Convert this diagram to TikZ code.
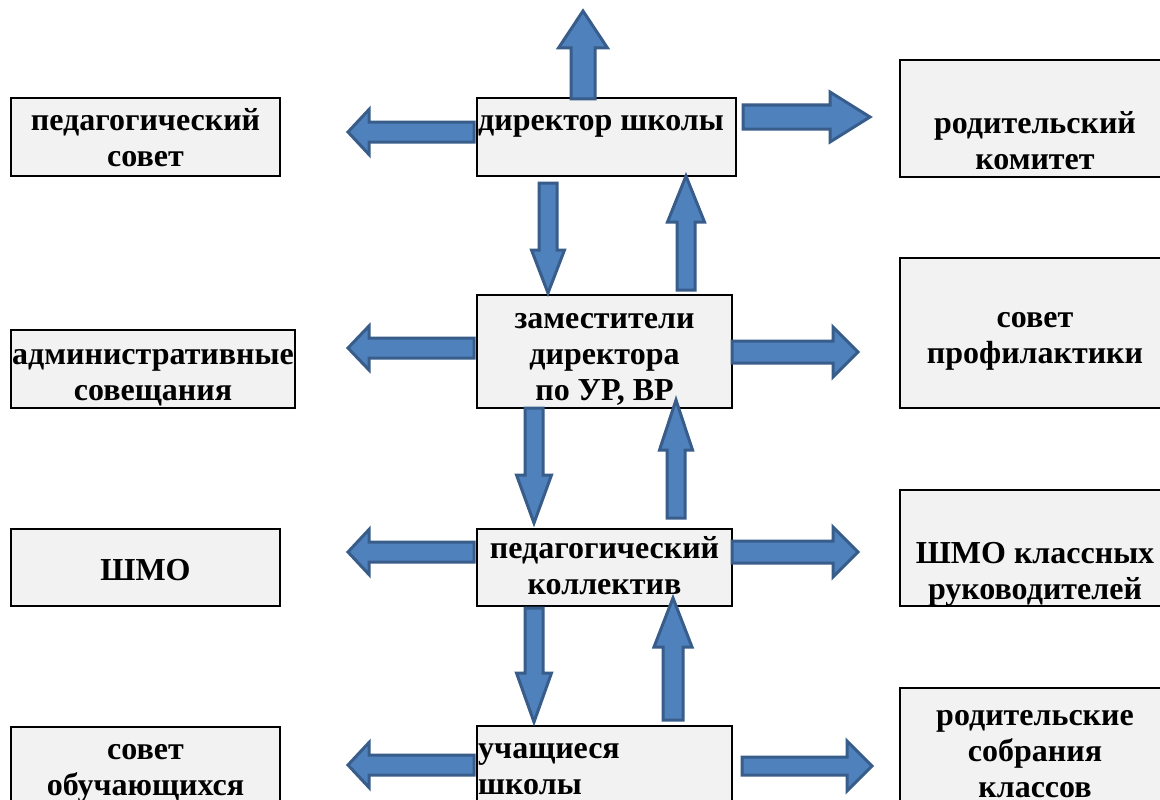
\documentclass[tikz,border=0pt]{standalone}
\usepackage{fontspec}
\setmainfont{Liberation Serif}
\definecolor{arrfill}{HTML}{4F81BD}
\definecolor{arrline}{HTML}{385D8A}
\definecolor{boxfill}{HTML}{F2F2F2}
\tikzset{
  box/.style={draw=black, fill=boxfill, line width=2.5pt, inner sep=0pt, outer sep=0pt, anchor=north west},
  lbl/.style={inner sep=0pt, font=\fontsize{32}{36}\selectfont\bfseries},
  blockarrow/.style={draw=arrline, fill=arrfill, line width=3pt, line join=miter}
}
\newcommand\harrow[6]{% x0 xb xt yc s H
  \draw[blockarrow] (#1,#4-#5) -- (#2,#4-#5) -- (#2,#4-#6) -- (#3,#4) -- (#2,#4+#6) -- (#2,#4+#5) -- (#1,#4+#5) -- cycle;}
\newcommand\varrow[6]{% y0 yb yt xc s H
  \draw[blockarrow] (#4-#5,#1) -- (#4-#5,#2) -- (#4-#6,#2) -- (#4,#3) -- (#4+#6,#2) -- (#4+#5,#2) -- (#4+#5,#1) -- cycle;}
\newcommand\ctext[1]{\begin{tabular}[t]{@{}c@{}}#1\end{tabular}}
\newcommand\ltext[1]{\begin{tabular}[t]{@{}l@{}}#1\end{tabular}}
\begin{document}
\begin{tikzpicture}[x=1pt,y=-1pt]
\useasboundingbox (0,0) rectangle (1160,800);
\fill[white] (0,0) rectangle (1160,800);
% boxes
\node[box, minimum width=269pt, minimum height=78pt] (ps) at (11,98) {};
\node[box, minimum width=284pt, minimum height=78pt] (adm) at (11,330) {};
\node[box, minimum width=269pt, minimum height=77pt] (shmo) at (11,529) {};
\node[box, minimum width=269pt, minimum height=90pt] (so) at (11,727) {};
\node[box, minimum width=259pt, minimum height=78pt] (dir) at (477,98) {};
\node[box, minimum width=255pt, minimum height=113pt] (zam) at (477,295) {};
\node[box, minimum width=255pt, minimum height=77pt] (pk) at (477,529) {};
\node[box, minimum width=255pt, minimum height=90pt] (uch) at (477,726) {};
\node[box, minimum width=270pt, minimum height=117pt] (rk) at (900,60) {};
\node[box, minimum width=270pt, minimum height=150pt] (sp) at (900,258) {};
\node[box, minimum width=270pt, minimum height=116pt] (shk) at (900,490) {};
\node[box, minimum width=270pt, minimum height=130pt] (rs) at (900,688) {};
% block arrows
\varrow{99}{48}{11}{583}{12}{24.5}
\harrow{474}{369}{348}{132}{10}{22.5}
\harrow{743}{830}{870}{117}{12}{25}
\varrow{183}{250}{293}{548}{9}{16.5}
\varrow{290}{222}{176}{686}{9}{18.5}
\harrow{474}{369}{348}{348}{10}{22}
\harrow{732}{833}{858}{352}{11}{25}
\varrow{408}{475}{523}{534}{9}{17.5}
\varrow{518}{450}{400}{676}{9}{16.5}
\harrow{474}{369}{348}{552}{10}{22.5}
\harrow{732}{833}{858}{552}{11}{25}
\varrow{608}{673}{722}{534}{9}{17.5}
\varrow{720}{647}{598}{673}{10}{19}
\harrow{474}{369}{348}{765}{10}{22.5}
\harrow{742}{847}{872}{766}{9}{25}
% labels
\node[lbl, anchor=base] (tps) at (145.5,130) {\ctext{педагогический\\совет}};
\node[lbl, anchor=base] (tadm) at (153,364) {\ctext{административные\\совещания}};
\node[lbl, anchor=base] (tshmo) at (145.5,580) {\ctext{ШМО}};
\node[lbl, anchor=base] (tso) at (145.5,759) {\ctext{совет\\обучающихся}};
\node[lbl, anchor=base west] (tdir) at (478,130) {\ltext{директор школы}};
\node[lbl, anchor=base] (tzam) at (604.5,328) {\ctext{заместители\\директора\\по УР, ВР}};
\node[lbl, anchor=base] (tpk) at (604.5,558) {\ctext{педагогический\\коллектив}};
\node[lbl, anchor=base west] (tuch) at (478,758) {\ltext{учащиеся\\школы}};
\node[lbl, anchor=base] (trk) at (1035,133) {\ctext{родительский\\комитет}};
\node[lbl, anchor=base] (tsp) at (1035,327) {\ctext{совет\\профилактики}};
\node[lbl, anchor=base] (tshk) at (1035,563) {\ctext{ШМО классных\\руководителей}};
\node[lbl, anchor=base] (trs) at (1035,725) {\ctext{родительские\\собрания\\классов}};
\end{tikzpicture}
\end{document}
